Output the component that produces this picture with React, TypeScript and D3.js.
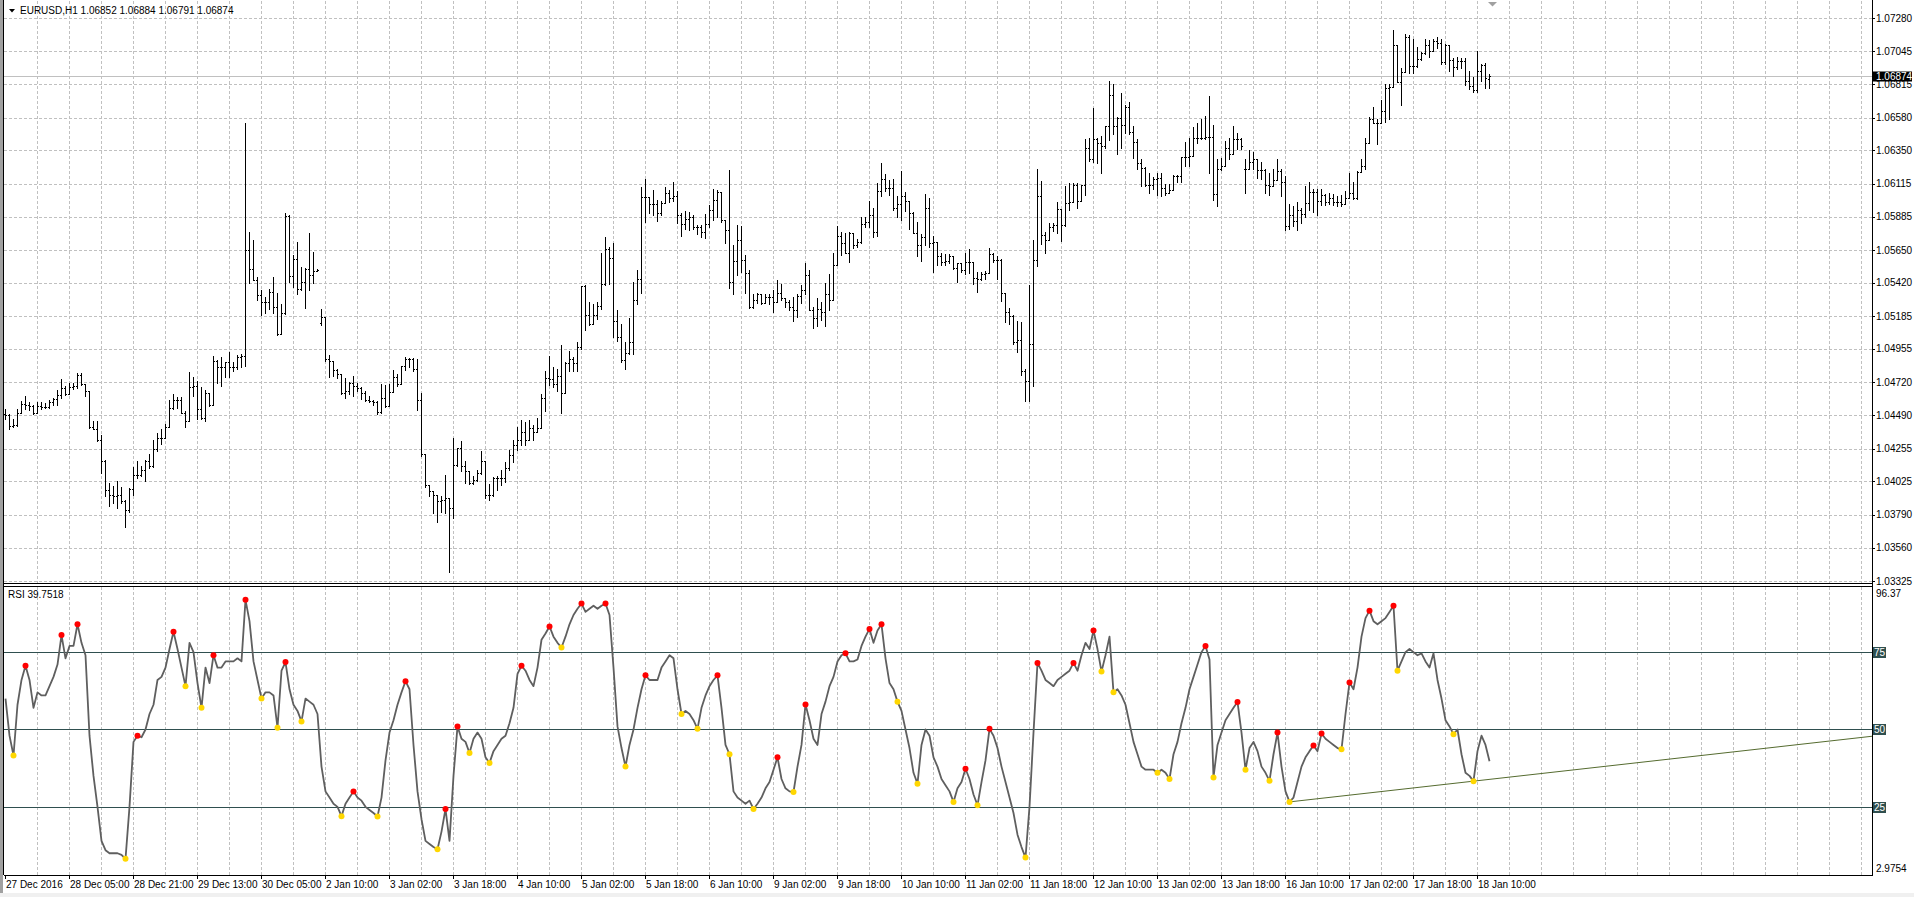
import React from "react";
import * as d3 from "d3";

// ---------- data ----------
const symbolTitle = "EURUSD,H1  1.06852 1.06884 1.06791 1.06874";
const rsiTitle = "RSI 39.7518";
const bidPrice = 1.06874;
const priceDomain = [1.03325, 1.0728];
const priceTicks = [1.0728, 1.07045, 1.06815, 1.0658, 1.0635, 1.06115, 1.05885, 1.0565, 1.0542, 1.05185, 1.04955, 1.0472, 1.0449, 1.04255, 1.04025, 1.0379, 1.0356, 1.03325];
const priceTickLabels = ["1.07280", "1.07045", "1.06815", "1.06580", "1.06350", "1.06115", "1.05885", "1.05650", "1.05420", "1.05185", "1.04955", "1.04720", "1.04490", "1.04255", "1.04025", "1.03790", "1.03560", "1.03325"];
const rsiMaxLabel = "96.37";
const rsiMinLabel = "2.9754";
const rsiDomain = [2.9754, 96.37];
const rsiLevels = [75, 50, 25];
const timeLabels = ["27 Dec 2016", "28 Dec 05:00", "28 Dec 21:00", "29 Dec 13:00", "30 Dec 05:00", "2 Jan 10:00", "3 Jan 02:00", "3 Jan 18:00", "4 Jan 10:00", "5 Jan 02:00", "5 Jan 18:00", "6 Jan 10:00", "9 Jan 02:00", "9 Jan 18:00", "10 Jan 10:00", "11 Jan 02:00", "11 Jan 18:00", "12 Jan 10:00", "13 Jan 02:00", "13 Jan 18:00", "16 Jan 10:00", "17 Jan 02:00", "17 Jan 18:00", "18 Jan 10:00"];
const barsPerLabel = 16;
const barsPerGrid = 8;

const opens = [1.04496,1.04489,1.04414,1.04421,1.04508,1.04567,1.04562,1.04555,1.04508,1.04555,1.04548,1.04548,1.04579,1.04602,1.04633,1.0468,1.04642,1.04689,1.04696,1.04774,1.04708,1.04661,1.04407,1.0439,1.04313,1.04167,1.03966,1.03931,1.03919,1.03926,1.03889,1.03825,1.03974,1.04072,1.04072,1.04108,1.04171,1.04131,1.04249,1.04331,1.04331,1.04407,1.04543,1.04595,1.04595,1.04508,1.04449,1.04685,1.04696,1.04532,1.04473,1.04649,1.04562,1.04873,1.04826,1.04826,1.04861,1.04826,1.04826,1.04897,1.04908,1.0565,1.05514,1.05438,1.05332,1.05285,1.05285,1.05356,1.0525,1.05062,1.05207,1.0589,1.05467,1.05584,1.05379,1.05427,1.05514,1.05474,1.05504,1.05137,1.05179,1.04885,1.04868,1.04807,1.04779,1.04649,1.04661,1.04713,1.04696,1.0468,1.04649,1.04595,1.0459,1.04579,1.04515,1.04614,1.04555,1.04656,1.04755,1.04708,1.04838,1.04885,1.04885,1.04814,1.04598,1.04214,1.04002,1.03955,1.03931,1.03884,1.03896,1.03908,1.03837,1.04143,1.04261,1.04131,1.04096,1.04014,1.04037,1.04084,1.04167,1.03931,1.03931,1.04049,1.04049,1.04048,1.04118,1.0421,1.0428,1.04315,1.04371,1.04315,1.04399,1.04371,1.04399,1.04614,1.0475,1.04743,1.04708,1.04764,1.04649,1.04854,1.04885,1.04854,1.04967,1.05396,1.05191,1.05132,1.05191,1.05254,1.0541,1.05655,1.05591,1.05151,1.05038,1.04878,1.04925,1.05002,1.05297,1.05443,1.06022,1.06022,1.05975,1.05975,1.05909,1.0598,1.0605,1.06015,1.06027,1.05897,1.05834,1.05867,1.05881,1.05815,1.05815,1.05779,1.05834,1.05928,1.05998,1.06055,1.05862,1.05791,1.05426,1.05575,1.05721,1.05579,1.0549,1.0525,1.05301,1.05344,1.05278,1.0532,1.0532,1.05285,1.05349,1.05316,1.05285,1.0525,1.05226,1.05325,1.05367,1.05473,1.05231,1.05174,1.05238,1.05214,1.05339,1.05301,1.05544,1.05749,1.05697,1.05631,1.05768,1.05685,1.05709,1.05834,1.0585,1.05897,1.05779,1.06062,1.06149,1.06086,1.06086,1.05944,1.05975,1.06031,1.05991,1.05909,1.05772,1.05685,1.05739,1.05944,1.057,1.05709,1.05608,1.05568,1.05575,1.05608,1.05527,1.05556,1.05513,1.05568,1.05568,1.05457,1.0545,1.05485,1.0549,1.05622,1.05579,1.05579,1.0535,1.05215,1.05185,1.05003,1.05015,1.04803,1.04733,1.04987,1.0558,1.06028,1.05757,1.05722,1.05811,1.05828,1.05938,1.05828,1.05981,1.05985,1.0611,1.05993,1.0611,1.06369,1.06292,1.06428,1.06405,1.06381,1.06518,1.06739,1.06522,1.06581,1.06527,1.06652,1.0648,1.06409,1.06263,1.06228,1.0611,1.0611,1.0615,1.06157,1.06087,1.06051,1.06075,1.06169,1.06169,1.06306,1.06306,1.0631,1.0644,1.0644,1.0644,1.06447,1.06447,1.06047,1.06221,1.0624,1.06369,1.06322,1.06433,1.06428,1.06221,1.06216,1.06268,1.06287,1.06212,1.06212,1.0611,1.06103,1.06141,1.06204,1.06127,1.05821,1.05898,1.05851,1.05929,1.05905,1.05981,1.06056,1.06056,1.05993,1.0604,1.05985,1.06016,1.05985,1.05985,1.05976,1.06016,1.06051,1.06016,1.06197,1.0624,1.064,1.06569,1.06541,1.06541,1.06628,1.06786,1.06793,1.07088,1.06833,1.06904,1.07146,1.06942,1.06942,1.06993,1.07036,1.07092,1.07045,1.07116,1.07106,1.0697,1.07092,1.06982,1.06935,1.06975,1.06975,1.0684,1.06805,1.06777,1.06911,1.06951,1.06852];

const closes = [1.04489,1.04414,1.04421,1.04508,1.04567,1.04562,1.04555,1.04508,1.04555,1.04548,1.04548,1.04579,1.04602,1.04633,1.0468,1.04642,1.04689,1.04696,1.04774,1.04708,1.04661,1.04407,1.0439,1.04313,1.04167,1.03966,1.03931,1.03919,1.03926,1.03889,1.03825,1.03974,1.04072,1.04072,1.04108,1.04171,1.04131,1.04249,1.04331,1.04331,1.04407,1.04543,1.04595,1.04595,1.04508,1.04449,1.04685,1.04696,1.04532,1.04473,1.04649,1.04562,1.04873,1.04826,1.04826,1.04861,1.04826,1.04826,1.04897,1.04908,1.0565,1.05514,1.05438,1.05332,1.05285,1.05285,1.05356,1.0525,1.05062,1.05207,1.0589,1.05467,1.05584,1.05379,1.05427,1.05514,1.05474,1.05504,1.05509,1.05179,1.04885,1.04868,1.04807,1.04779,1.04649,1.04661,1.04713,1.04696,1.0468,1.04649,1.04595,1.0459,1.04579,1.04515,1.04614,1.04555,1.04656,1.04755,1.04708,1.04838,1.04885,1.04885,1.04814,1.04598,1.04214,1.04002,1.03955,1.03931,1.03884,1.03896,1.03908,1.03837,1.04143,1.04261,1.04131,1.04096,1.04014,1.04037,1.04084,1.04167,1.03931,1.03931,1.04049,1.04049,1.04048,1.04118,1.0421,1.0428,1.04315,1.04371,1.04315,1.04399,1.04371,1.04399,1.04614,1.0475,1.04743,1.04708,1.04764,1.04649,1.04854,1.04885,1.04854,1.04967,1.05396,1.05191,1.05132,1.05191,1.05254,1.0541,1.05655,1.05591,1.05151,1.05038,1.04878,1.04925,1.05002,1.05297,1.05443,1.06022,1.06022,1.05975,1.05975,1.05909,1.0598,1.0605,1.06015,1.06027,1.05897,1.05834,1.05867,1.05881,1.05815,1.05815,1.05779,1.05834,1.05928,1.05998,1.06055,1.05862,1.05791,1.05426,1.05575,1.05721,1.05579,1.0549,1.0525,1.05301,1.05344,1.05278,1.0532,1.0532,1.05285,1.05349,1.05316,1.05285,1.0525,1.05226,1.05325,1.05367,1.05473,1.05231,1.05174,1.05238,1.05214,1.05339,1.05301,1.05544,1.05749,1.05697,1.05631,1.05768,1.05685,1.05709,1.05834,1.0585,1.05897,1.05779,1.06062,1.06149,1.06086,1.06086,1.05944,1.05975,1.06031,1.05991,1.05909,1.05772,1.05685,1.05739,1.05944,1.057,1.05709,1.05608,1.05568,1.05575,1.05608,1.05527,1.05556,1.05513,1.05568,1.05568,1.05457,1.0545,1.05485,1.0549,1.05622,1.05579,1.05579,1.0535,1.05215,1.05185,1.05003,1.05015,1.04803,1.04733,1.04987,1.0558,1.06028,1.05757,1.05722,1.05811,1.05828,1.05938,1.05828,1.05981,1.05985,1.0611,1.05993,1.0611,1.06369,1.06292,1.06428,1.06405,1.06381,1.06518,1.06739,1.06522,1.06581,1.06527,1.06652,1.0648,1.06409,1.06263,1.06228,1.0611,1.0611,1.0615,1.06157,1.06087,1.06051,1.06075,1.06169,1.06169,1.06306,1.06306,1.0631,1.0644,1.0644,1.0644,1.06447,1.06447,1.06047,1.06221,1.0624,1.06369,1.06322,1.06433,1.06428,1.06381,1.06216,1.06268,1.06287,1.06212,1.06212,1.0611,1.06103,1.06141,1.06204,1.06127,1.05821,1.05898,1.05851,1.05929,1.05905,1.05981,1.06056,1.06056,1.05993,1.0604,1.05985,1.06016,1.05985,1.05985,1.05976,1.06016,1.06051,1.06016,1.06197,1.0624,1.064,1.06569,1.06541,1.06541,1.06628,1.06786,1.06793,1.07088,1.06833,1.06904,1.07146,1.06942,1.06942,1.06993,1.07036,1.07092,1.07045,1.07116,1.07106,1.0697,1.07092,1.06982,1.06935,1.06975,1.06975,1.0684,1.06805,1.06777,1.06911,1.06951,1.06857,1.06874];

const highs = [1.04532,1.04496,1.04461,1.04532,1.0459,1.04626,1.04579,1.04562,1.04579,1.04579,1.04572,1.04595,1.04614,1.04666,1.04744,1.04696,1.04713,1.04713,1.04784,1.04784,1.04708,1.04661,1.04449,1.04449,1.0435,1.04178,1.04014,1.0399,1.04025,1.03983,1.03896,1.03978,1.04124,1.04171,1.04131,1.04178,1.04214,1.04313,1.04367,1.0439,1.04426,1.04595,1.04638,1.04619,1.04619,1.0452,1.04791,1.04755,1.04732,1.04685,1.04666,1.04649,1.04908,1.04878,1.04897,1.04861,1.04932,1.04861,1.04915,1.0492,1.0654,1.0578,1.05721,1.05462,1.05368,1.05321,1.05379,1.05462,1.05349,1.05273,1.05909,1.05898,1.05615,1.05709,1.05533,1.05521,1.05768,1.05638,1.05514,1.05238,1.05179,1.04915,1.04868,1.04814,1.04779,1.04751,1.0472,1.04767,1.04713,1.04685,1.04661,1.04626,1.04595,1.0459,1.04708,1.04704,1.04708,1.04807,1.04779,1.04838,1.04897,1.04892,1.04892,1.04885,1.04649,1.04214,1.04002,1.03955,1.03931,1.03919,1.04072,1.03884,1.04331,1.04261,1.04308,1.04167,1.04096,1.04061,1.04108,1.04237,1.04167,1.04007,1.04054,1.04061,1.04104,1.0416,1.04245,1.04315,1.04406,1.04456,1.04442,1.04456,1.0442,1.0447,1.04637,1.04797,1.04908,1.0483,1.04814,1.04986,1.04861,1.04943,1.04901,1.05002,1.05396,1.05403,1.05285,1.05268,1.05285,1.05631,1.05739,1.05673,1.05702,1.05226,1.05127,1.05002,1.05174,1.05426,1.05509,1.06093,1.06149,1.06008,1.06069,1.05998,1.05991,1.06093,1.06074,1.06126,1.06062,1.05909,1.05921,1.05914,1.05897,1.05827,1.05827,1.05904,1.05968,1.06079,1.06074,1.06055,1.05862,1.06215,1.05685,1.05827,1.0582,1.05615,1.05513,1.05339,1.05349,1.05344,1.05344,1.05344,1.05367,1.05438,1.05414,1.05316,1.05297,1.0532,1.05344,1.05403,1.0556,1.05513,1.0525,1.05316,1.05285,1.05419,1.0548,1.05631,1.0582,1.05779,1.05772,1.05779,1.05768,1.05725,1.05885,1.05881,1.05991,1.05944,1.06121,1.06262,1.06187,1.06144,1.06149,1.06031,1.06203,1.06055,1.05991,1.05914,1.0585,1.05763,1.06046,1.06015,1.05749,1.05645,1.05626,1.05622,1.05622,1.05608,1.0556,1.0556,1.05631,1.05655,1.05568,1.05497,1.05497,1.05504,1.05662,1.05626,1.05608,1.05585,1.0535,1.05246,1.05192,1.05152,1.05145,1.04815,1.05404,1.05722,1.06221,1.06134,1.05774,1.05839,1.05839,1.05985,1.05938,1.06098,1.06122,1.06122,1.06122,1.0611,1.06428,1.0644,1.06645,1.0644,1.06452,1.06518,1.0684,1.06817,1.06588,1.06753,1.06668,1.06687,1.06518,1.06428,1.06287,1.06235,1.06188,1.06164,1.06193,1.06188,1.06117,1.06117,1.06174,1.06174,1.06306,1.06409,1.0644,1.06511,1.06541,1.06574,1.06593,1.0673,1.06527,1.06292,1.06299,1.06416,1.0644,1.06522,1.06475,1.0644,1.06287,1.06353,1.06339,1.06287,1.06268,1.06221,1.06188,1.06221,1.06292,1.06216,1.06169,1.05976,1.05957,1.05985,1.05945,1.06098,1.06127,1.0608,1.0608,1.0608,1.06047,1.06051,1.06047,1.06033,1.0604,1.06063,1.06188,1.06127,1.06204,1.06287,1.0644,1.06588,1.06652,1.06574,1.06706,1.06817,1.06817,1.07194,1.07092,1.06927,1.0717,1.07163,1.0713,1.07076,1.0704,1.0713,1.07123,1.07135,1.07146,1.0713,1.07099,1.07092,1.06998,1.07005,1.06998,1.06998,1.06911,1.06864,1.07045,1.06958,1.06965,1.06884];

const lows = [1.04461,1.0439,1.04407,1.04414,1.04508,1.04532,1.04525,1.04501,1.04508,1.04532,1.04539,1.04543,1.04562,1.04562,1.04614,1.04633,1.04642,1.04673,1.0468,1.04704,1.04626,1.04402,1.0439,1.04308,1.04084,1.03919,1.03849,1.03872,1.03837,1.03872,1.03707,1.03813,1.03931,1.04049,1.04061,1.0403,1.04119,1.04124,1.04237,1.04284,1.04331,1.04407,1.04532,1.04543,1.04508,1.04407,1.04449,1.04626,1.04461,1.04461,1.04449,1.04555,1.04562,1.04713,1.04696,1.04755,1.0476,1.04798,1.04814,1.04826,1.04838,1.05419,1.05438,1.05297,1.05191,1.05207,1.05238,1.05207,1.0505,1.05062,1.05203,1.05427,1.05391,1.05344,1.05368,1.05245,1.05372,1.05419,1.05504,1.0512,1.04873,1.0476,1.04767,1.04751,1.04642,1.04609,1.04638,1.04626,1.04661,1.04602,1.0459,1.04579,1.04562,1.04496,1.04508,1.04548,1.04555,1.04673,1.04696,1.04708,1.04807,1.04826,1.04802,1.04525,1.04202,1.03983,1.03919,1.03802,1.03738,1.03813,1.03802,1.0339,1.03766,1.04131,1.04096,1.04014,1.04007,1.04007,1.04025,1.04077,1.03908,1.03896,1.03919,1.03966,1.03999,1.04019,1.04104,1.0416,1.04245,1.0428,1.0428,1.04315,1.04315,1.04371,1.04399,1.0452,1.04703,1.04689,1.04661,1.04508,1.04649,1.04802,1.04802,1.04802,1.04955,1.05089,1.0512,1.05132,1.05167,1.05238,1.05403,1.05414,1.05038,1.05014,1.04861,1.04814,1.0492,1.0492,1.05273,1.05349,1.0585,1.05909,1.05897,1.05857,1.05897,1.0598,1.05984,1.05991,1.05843,1.05749,1.05796,1.05791,1.05796,1.05763,1.05744,1.05732,1.05815,1.05862,1.05885,1.0585,1.05697,1.05386,1.05344,1.05473,1.05497,1.05349,1.05245,1.05245,1.05278,1.05273,1.05278,1.05273,1.05214,1.05285,1.05297,1.0525,1.05231,1.05151,1.05179,1.05278,1.05344,1.05226,1.05104,1.05113,1.0516,1.05113,1.05231,1.05297,1.05544,1.05615,1.05626,1.05568,1.05662,1.05673,1.05697,1.05815,1.05815,1.05744,1.05749,1.06031,1.06062,1.06039,1.05933,1.05885,1.05862,1.05921,1.05796,1.05772,1.05608,1.05575,1.05685,1.05673,1.05497,1.05544,1.05544,1.05544,1.0556,1.0552,1.05426,1.05497,1.05485,1.0549,1.05414,1.05356,1.05438,1.0545,1.0549,1.05568,1.0545,1.05293,1.05145,1.05128,1.04992,1.04933,1.04775,1.04591,1.04591,1.04697,1.05538,1.05693,1.05632,1.05717,1.05781,1.05769,1.0571,1.05816,1.05934,1.05985,1.05945,1.05993,1.0604,1.06275,1.06268,1.06263,1.06188,1.06369,1.06423,1.06464,1.06322,1.06369,1.06475,1.06464,1.06299,1.06216,1.06103,1.06103,1.06051,1.0608,1.0604,1.06033,1.0604,1.06051,1.06075,1.06127,1.06127,1.0624,1.0624,1.0631,1.064,1.06433,1.06433,1.06188,1.06004,1.05957,1.06212,1.0624,1.06287,1.06322,1.06358,1.06358,1.06051,1.06216,1.06221,1.06157,1.0615,1.06051,1.0604,1.06098,1.06141,1.06033,1.05788,1.05797,1.05816,1.05788,1.05839,1.05882,1.05929,1.05915,1.05898,1.05969,1.05969,1.05976,1.05969,1.05962,1.05962,1.05976,1.06016,1.06009,1.06009,1.06197,1.06221,1.064,1.06541,1.06393,1.06541,1.06546,1.06574,1.06793,1.06829,1.06668,1.06904,1.06894,1.06894,1.06935,1.06982,1.07029,1.07005,1.07045,1.07069,1.06958,1.06958,1.06911,1.06876,1.06923,1.06927,1.0681,1.06781,1.06758,1.06763,1.0684,1.06786,1.06791];

const rsiValues = [60,48,41.6,58,66,70.6,66,57,62,61,61,64,67,71,80.5,73,77,77,84,78,74,48,35,25,14,11,10,10,10,9.5,8.2,25,46,48,47.5,50,55,58,66,67,70,76,81.6,76,70,64,78,75,65,57,70,65,74,70,70,72,72,72,73,72,91.9,85,72,66,60,62,62,61,50.6,69,71.8,63,58,56,52.6,60,59,58,55,38,30,28,26,25,22,26,28,30,28,27,25,24,23,21.9,28,40,49,53,58,62,65.6,63,45,30,21,14,13,12,11.3,17,24.3,14,35,51,47,46,42.4,47,49,47,41,39.2,43,45,47,48,52,57,68,70.6,69,66,64,70,79,81,83.3,80,78,76.5,80,84,87,89,90.7,88,89,90,89,90,90.7,87,70,51,44,38,45,50,57,63,67.5,66,66,66,70,72,74,73,63,55,56,55,53,50.2,57,61,64,66,67.5,57,45,42,30,28,27,26,27,24.3,26,28,31,33,37,41,34,31,30,29.8,38,45,58.1,53,47,45,55,59,64,67,72,74,74.6,72,72,72.6,77,80,82.5,78,82,84,73,65,63,59,56,50,44,36,32.5,45,50,48,41,38,34,32,30,26.6,31,33,37.3,34,29,25.5,33,40,50.2,48,44,38,33,28,23,16,12,8.6,25,49,71.5,69,66,65,64,66,67,68,69,71.5,69,74,78,76,82,76,68.7,74,80,62,63,61,58,52,46,42,38,37,37,37,36,37,36,34,42,46,52,57,63,67,71,75,77,72.6,34.5,45,49,53,55,57,58.9,49,37,44,46,43,38,36,33.4,42,49,38,30,26.6,28,33,38,41,43,44.8,43,48.7,47,46,45,44,43.6,55,65.2,63,70,80,86,88.4,85,84,85,86,88,90,69,72,75,76,75,74,74.6,72,70,74.6,66,60,53,51,48.5,50,42,36,35,33.3,43,48,45,39.7518];

// fractal markers on RSI (bar indices)
const rsiUpFractals = [5, 14, 18, 33, 42, 52, 60, 70, 87, 100, 110, 113, 129, 136, 144, 150, 160, 178, 193, 200, 210, 216, 219, 240, 246, 258, 267, 272, 300, 308, 318, 327, 329, 336, 341, 347];
const rsiDownFractals = [2, 30, 45, 49, 64, 68, 74, 84, 93, 108, 116, 121, 139, 155, 169, 173, 181, 187, 197, 223, 228, 237, 243, 255, 274, 277, 288, 291, 302, 310, 316, 321, 334, 348, 362, 367];

// trend line on RSI (two anchor points: bar index, RSI value)
const trendAnchors = [[321, 26.6], [367, 33.3]];

// ---------- chart ----------
const W = 1914, H = 897;
const LEFT = 4, AXIS_X = 1872;
const MAIN_BOTTOM = 583, SUB_TOP = 586, SUB_BOTTOM = 875;
const FONT = "'Liberation Sans', Arial, sans-serif";

export default function App() {
  const x = d3.scaleLinear().domain([0, 1]).range([5, 9]);
  const yP = d3.scaleLinear().domain(priceDomain).range([581, 18]);
  const yR = d3.scaleLinear().domain(rsiDomain).range([SUB_BOTTOM, SUB_TOP]);

  const gridXs = d3.range(barsPerGrid, 470, barsPerGrid).map((i) => x(i)).filter((v) => v < AXIS_X - 2);
  const rsiLine = d3.line().x((d, i) => x(i) + 0.5).y((d) => yR(d))(rsiValues);

  const [a, b] = trendAnchors;
  const tx1 = x(a[0]) + 0.5, ty1 = yR(a[1]), tx2 = x(b[0]) + 0.5, ty2 = yR(b[1]);
  const slope = (ty2 - ty1) / (tx2 - tx1);
  const tyEnd = ty1 + slope * (AXIS_X - tx1);

  const bidY = Math.round(yP(bidPrice)) + 0.5;

  return (
    <>
      <style>{"body{margin:0;background:#fff;}"}</style>
      <svg width={W} height={H} style={{ display: "block" }} fontFamily={FONT}>
        <rect x={0} y={0} width={W} height={H} fill="#ffffff" />
        <rect x={0} y={0} width={3} height={H} fill="#a0a0a0" />
        <rect x={0} y={893} width={W} height={4} fill="#f0f0f0" />
        <g shapeRendering="crispEdges">
          {gridXs.map((gx, k) => (
            <g key={"gx" + k}>
              <line x1={gx + 0.5} x2={gx + 0.5} y1={1} y2={MAIN_BOTTOM} stroke="#c0c0c0" strokeDasharray="3,2" />
              <line x1={gx + 0.5} x2={gx + 0.5} y1={SUB_TOP + 1} y2={SUB_BOTTOM} stroke="#c0c0c0" strokeDasharray="3,2" />
            </g>
          ))}
          {priceTicks.map((p, k) => (
            <line key={"gy" + k} x1={LEFT} x2={AXIS_X} y1={Math.round(yP(p)) + 0.5} y2={Math.round(yP(p)) + 0.5} stroke="#c0c0c0" strokeDasharray="3,2" />
          ))}
          <line x1={LEFT} x2={AXIS_X} y1={bidY} y2={bidY} stroke="#c0c0c0" />

          {closes.map((c, i) => {
            const xi = Math.round(x(i));
            const hi = Math.max(highs[i], opens[i], c);
            const lo = Math.min(lows[i], opens[i], c);
            const yh = Math.round(yP(hi));
            const yl = Math.round(yP(lo));
            return (
              <g key={"b" + i} fill="#000">
                <rect x={xi} y={yh} width={1} height={Math.max(1, yl - yh + 1)} />
                <rect x={xi - 1} y={Math.round(yP(opens[i]))} width={1} height={1} />
                <rect x={xi + 1} y={Math.round(yP(c))} width={1} height={1} />
              </g>
            );
          })}

          <line x1={LEFT - 0.5} x2={LEFT - 0.5} y1={0} y2={SUB_BOTTOM} stroke="#000" />
          <line x1={LEFT} x2={AXIS_X} y1={MAIN_BOTTOM + 0.5} y2={MAIN_BOTTOM + 0.5} stroke="#000" />
          <line x1={LEFT} x2={AXIS_X} y1={SUB_TOP + 0.5} y2={SUB_TOP + 0.5} stroke="#000" />
          <line x1={LEFT} x2={AXIS_X} y1={SUB_BOTTOM + 0.5} y2={SUB_BOTTOM + 0.5} stroke="#000" />
          <line x1={AXIS_X + 0.5} x2={AXIS_X + 0.5} y1={0} y2={SUB_BOTTOM + 1} stroke="#000" />

          {priceTicks.map((p, k) => (
            <line key={"pt" + k} x1={AXIS_X} x2={AXIS_X + 3} y1={Math.round(yP(p)) + 0.5} y2={Math.round(yP(p)) + 0.5} stroke="#000" />
          ))}
          {timeLabels.map((t, k) => (
            <line key={"tt" + k} x1={x(k * barsPerLabel) + 0.5} x2={x(k * barsPerLabel) + 0.5} y1={SUB_BOTTOM} y2={SUB_BOTTOM + 4} stroke="#000" />
          ))}

          {rsiLevels.map((lv) => (
            <line key={"lv" + lv} x1={LEFT} x2={AXIS_X} y1={Math.round(yR(lv)) + 0.5} y2={Math.round(yR(lv)) + 0.5} stroke="#2f4f4f" />
          ))}
        </g>

        <line x1={tx1} y1={ty1} x2={AXIS_X} y2={tyEnd} stroke="#556b2f" strokeWidth={1} />
        <path d={rsiLine} fill="none" stroke="#5f5f5f" strokeWidth={1.8} strokeLinejoin="round" />
        {rsiUpFractals.map((i) => (
          <circle key={"pk" + i} cx={x(i) + 0.5} cy={yR(rsiValues[i])} r={3} fill="#ff0000" />
        ))}
        {rsiDownFractals.map((i) => (
          <circle key={"tr" + i} cx={x(i) + 0.5} cy={yR(rsiValues[i])} r={3} fill="#ffd700" />
        ))}

        <polygon points="9,9 15,9 12,12.5" fill="#000" />
        <text x={20} y={14} fontSize={10} fill="#000">{symbolTitle}</text>
        <text x={8} y={598} fontSize={10} fill="#000">{rsiTitle}</text>
        <polygon points="1488,2 1497,2 1492.5,6.5" fill="#a0a0a0" />

        {priceTicks.map((p, k) => (
          <text key={"pl" + k} x={AXIS_X + 4} y={yP(p) + 3.5} fontSize={10} fill="#000">{priceTickLabels[k]}</text>
        ))}
        <rect x={AXIS_X + 1} y={bidY - 5} width={39} height={10} fill="#000" />
        <text x={AXIS_X + 4} y={bidY + 3.5} fontSize={10} fill="#fff">{bidPrice.toFixed(5)}</text>

        <text x={AXIS_X + 4} y={SUB_TOP + 11} fontSize={10} fill="#000">{rsiMaxLabel}</text>
        <text x={AXIS_X + 4} y={SUB_BOTTOM - 3} fontSize={10} fill="#000">{rsiMinLabel}</text>
        {rsiLevels.map((lv) => (
          <g key={"ll" + lv}>
            <rect x={AXIS_X + 1} y={Math.round(yR(lv)) - 5} width={13} height={11} fill="#2f4f4f" />
            <text x={AXIS_X + 2} y={yR(lv) + 4} fontSize={10} fill="#fff">{lv}</text>
          </g>
        ))}

        {timeLabels.map((t, k) => (
          <text key={"tl" + k} x={x(k * barsPerLabel) + 1} y={888} fontSize={10} fill="#000">{t}</text>
        ))}
      </svg>
    </>
  );
}
